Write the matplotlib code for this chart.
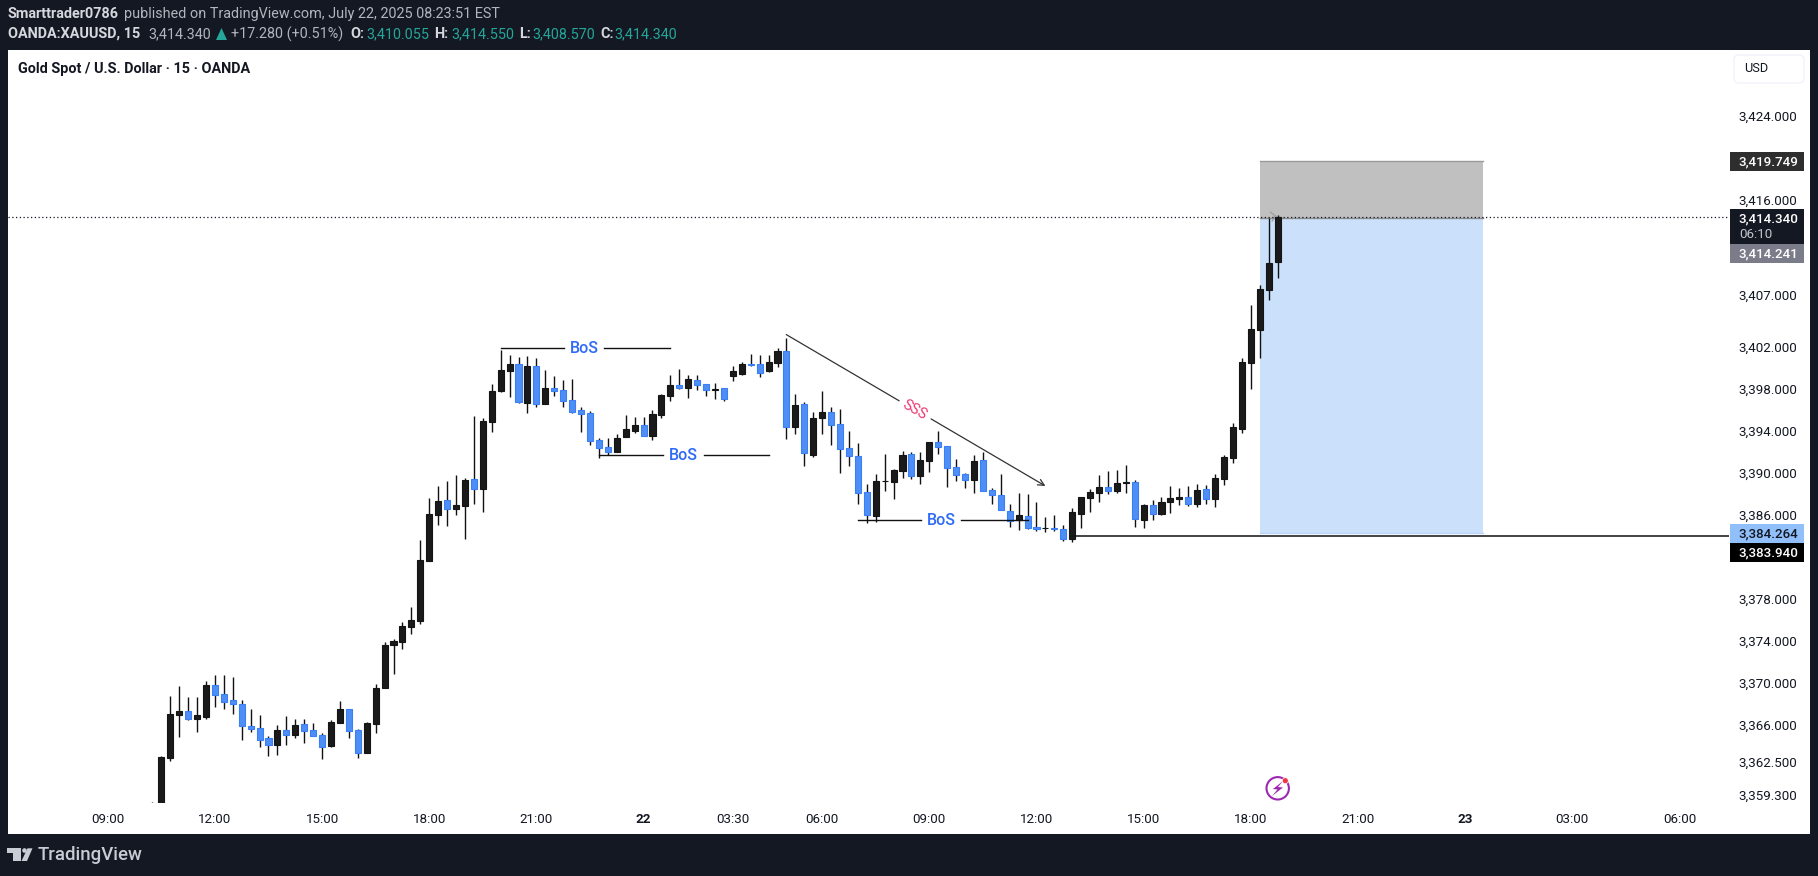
import numpy as np
import matplotlib
matplotlib.use('Agg')
import matplotlib.pyplot as plt
from matplotlib.patches import Rectangle, FancyBboxPatch, Polygon, Circle

# Bougies XAUUSD 15 min
opens = [3356.0, 3356.5, 3362.85, 3366.95, 3367.27, 3366.56, 3366.75, 3369.75, 3368.89, 3368.32,
         3367.94, 3365.84, 3365.65, 3364.70, 3364.09, 3365.46, 3365.04, 3366.03, 3365.46, 3364.98,
         3363.99, 3366.18, 3367.46, 3365.46, 3363.32, 3366.09, 3369.52, 3373.59, 3373.90, 3375.33,
         3375.90, 3381.62, 3386.00, 3387.38, 3386.58, 3386.86, 3389.38, 3388.48, 3394.87, 3397.82,
         3399.73, 3400.34, 3396.68, 3400.15, 3396.58, 3398.05, 3397.86, 3396.91, 3395.95, 3395.67,
         3393.09, 3392.43, 3392.01, 3393.44, 3394.01, 3394.52, 3393.53, 3395.53, 3397.35, 3398.34,
         3398.11, 3398.82, 3398.43, 3397.93, 3398.05, 3399.25, 3399.44, 3400.34, 3400.34, 3399.73,
         3400.43, 3401.58, 3394.33, 3396.53, 3391.72, 3395.25, 3395.76, 3394.62, 3392.33, 3391.57,
         3388.14, 3385.91, 3389.17, 3389.15, 3390.20, 3391.76, 3389.72, 3391.15, 3392.90, 3392.52,
         3390.52, 3389.85, 3389.34, 3391.19, 3388.33, 3387.85, 3386.33, 3385.47, 3385.85, 3384.80,
         3384.69, 3384.74, 3384.61, 3383.72, 3386.10, 3387.62, 3388.10, 3388.62, 3388.29, 3389.07,
         3389.09, 3385.53, 3386.90, 3386.10, 3387.24, 3387.53, 3387.66, 3387.05, 3388.42, 3387.53,
         3389.44, 3391.44, 3394.20, 3400.49, 3403.63, 3407.45, 3410.055]
highs = [3358.6, 3363.00, 3368.73, 3369.68, 3368.63, 3368.63, 3370.16, 3370.73, 3370.73, 3370.54,
         3368.35, 3367.49, 3366.92, 3364.89, 3365.96, 3366.82, 3366.54, 3366.54, 3366.15, 3365.20,
         3366.44, 3368.25, 3367.46, 3365.58, 3366.25, 3369.87, 3373.87, 3374.16, 3375.78, 3377.21,
         3383.59, 3387.60, 3388.74, 3389.22, 3389.79, 3389.50, 3395.41, 3395.22, 3398.46, 3401.70,
         3401.22, 3401.00, 3401.13, 3400.91, 3399.79, 3399.22, 3398.84, 3398.91, 3396.24, 3395.89,
         3393.29, 3393.31, 3393.69, 3395.51, 3395.29, 3395.29, 3395.98, 3397.51, 3399.32, 3399.89,
         3399.32, 3399.32, 3398.43, 3398.55, 3398.05, 3400.18, 3400.53, 3401.32, 3401.22, 3401.22,
         3401.86, 3402.81, 3397.48, 3396.75, 3395.76, 3397.79, 3396.24, 3396.05, 3393.95, 3392.81,
         3388.90, 3389.85, 3391.76, 3390.33, 3392.05, 3391.95, 3391.95, 3392.90, 3393.95, 3392.52,
         3391.28, 3390.01, 3391.66, 3391.95, 3388.52, 3389.85, 3386.99, 3388.04, 3387.95, 3387.19,
         3385.76, 3385.95, 3384.99, 3386.61, 3387.66, 3388.42, 3389.76, 3390.17, 3390.24, 3390.71,
         3389.28, 3386.99, 3387.38, 3387.66, 3388.71, 3388.52, 3388.71, 3388.90, 3388.81, 3389.85,
         3391.66, 3394.71, 3400.91, 3405.96, 3407.87, 3414.25, 3414.55]
lows = [3355.0, 3356.0, 3362.56, 3364.82, 3366.47, 3365.30, 3366.56, 3367.68, 3367.49, 3367.01,
        3364.54, 3365.30, 3363.87, 3363.01, 3363.10, 3364.06, 3364.73, 3364.25, 3364.94, 3362.72,
        3363.87, 3366.18, 3364.73, 3362.82, 3363.32, 3365.20, 3369.52, 3370.82, 3373.21, 3374.66,
        3375.62, 3381.62, 3385.05, 3384.93, 3385.98, 3383.72, 3387.05, 3386.26, 3393.91, 3397.73,
        3397.25, 3396.68, 3395.67, 3396.30, 3396.58, 3397.35, 3396.30, 3395.73, 3393.91, 3392.65,
        3391.44, 3391.69, 3392.01, 3393.44, 3393.82, 3393.53, 3393.15, 3395.25, 3396.87, 3398.01,
        3397.15, 3397.92, 3397.35, 3397.06, 3396.87, 3398.77, 3399.35, 3400.20, 3399.16, 3399.63,
        3400.11, 3393.25, 3393.72, 3390.67, 3391.53, 3393.72, 3392.68, 3390.01, 3390.67, 3387.05,
        3385.24, 3385.34, 3388.29, 3387.53, 3389.53, 3389.44, 3388.96, 3390.10, 3391.82, 3388.67,
        3389.25, 3388.58, 3388.10, 3388.29, 3387.05, 3386.48, 3384.86, 3384.57, 3384.67, 3384.48,
        3384.38, 3384.48, 3383.53, 3383.43, 3384.76, 3386.29, 3387.24, 3388.00, 3388.10, 3388.10,
        3384.86, 3384.76, 3385.53, 3386.00, 3386.19, 3386.96, 3386.86, 3386.77, 3387.05, 3386.77,
        3388.86, 3390.96, 3393.82, 3398.01, 3400.97, 3406.50, 3408.57]
closes = [3357.0, 3362.91, 3367.01, 3367.27, 3366.56, 3366.89, 3369.75, 3368.85, 3368.18, 3368.00,
          3365.90, 3365.61, 3364.56, 3364.09, 3365.46, 3365.04, 3365.94, 3365.42, 3364.94, 3363.89,
          3366.22, 3367.46, 3365.42, 3363.32, 3366.12, 3369.46, 3373.56, 3373.97, 3375.40, 3375.94,
          3381.66, 3386.04, 3387.28, 3386.58, 3386.90, 3389.28, 3388.48, 3394.91, 3397.76, 3399.77,
          3400.34, 3396.77, 3400.15, 3396.58, 3398.05, 3397.82, 3396.87, 3395.82, 3395.63, 3393.06,
          3392.39, 3392.01, 3393.29, 3394.14, 3394.52, 3393.53, 3395.57, 3397.38, 3398.34, 3398.11,
          3398.91, 3398.39, 3397.92, 3397.97, 3397.06, 3399.67, 3400.34, 3400.27, 3399.48, 3400.53,
          3401.58, 3394.33, 3396.43, 3391.85, 3395.19, 3395.76, 3394.58, 3392.30, 3391.63, 3388.04,
          3386.00, 3389.19, 3389.21, 3390.24, 3391.66, 3389.72, 3391.19, 3392.90, 3392.48, 3390.48,
          3389.82, 3389.34, 3391.09, 3388.29, 3387.91, 3386.48, 3385.43, 3385.95, 3384.76, 3384.61,
          3384.73, 3384.68, 3383.72, 3386.23, 3387.66, 3388.14, 3388.62, 3388.29, 3389.00, 3389.11,
          3385.62, 3386.90, 3386.10, 3387.19, 3387.57, 3387.66, 3387.05, 3388.33, 3387.53, 3389.47,
          3391.47, 3394.33, 3400.53, 3403.67, 3407.49, 3409.96, 3414.34]

price_ticks = [3424.0, 3416.0, 3407.0, 3402.0, 3398.0, 3394.0, 3390.0, 3386.0, 3378.0,
               3374.0, 3370.0, 3366.0, 3362.5, 3359.3]
time_pos = [-5, 7, 19, 31, 43, 55, 65, 75, 87, 99, 111, 123, 135, 147, 159, 171]
time_labels = ['09:00', '12:00', '15:00', '18:00', '21:00', '22', '03:30', '06:00', '09:00', '12:00',
               '15:00', '18:00', '21:00', '23', '03:00', '06:00']
bold_times = ['22', '23']

last_price = 3414.34
stop_price = 3419.749
entry_price = 3414.241
target_price = 3384.264
low_line = 3383.94

# lignes BoS : debut, fin, prix, debut du trou, fin du trou
bos_lines = [(39, 58, 3401.86, 46.1, 50.6),
             (50, 69, 3391.66, 57.2, 61.8),
             (79, 98, 3385.47, 86.1, 90.6)]
sss_start = (71, 3403.16)
sss_gap = [(83.6, 3396.87), (87.2, 3395.13)]
sss_end = (100, 3388.74)

DARK = '#131822'
W, H = 1818, 876
BLACK = '#1a1a1a'
BLUE = '#4f8ff5'
BLUE_EDGE = '#3a7ff6'
FONT = 'Roboto'
HEAD = 10.4

fig = plt.figure(figsize=(W / 100, H / 100), dpi=100, facecolor=DARK)


def axes_box(x0, y0, x1, y1):
    return [x0 / W, 1 - y1 / H, (x1 - x0) / W, (y1 - y0) / H]


# fond blanc du graphique
back = fig.add_axes(axes_box(8, 50, 1810, 834), facecolor='white')
back.set_xticks([])
back.set_yticks([])
for s in back.spines.values():
    s.set_visible(False)

ax = fig.add_axes(axes_box(8, 50, 1729, 803))
ax.patch.set_alpha(0)
ax.set_xlim(-16.17, 176.55)
ax.set_ylim(3358.53, 3430.29)
for s in ax.spines.values():
    s.set_visible(False)

# zone de la position (long)
box_left, box_right = 124.0, 148.95
ax.add_patch(Rectangle((box_left, entry_price), box_right - box_left, stop_price - entry_price,
                       fc='#c0c0c0', ec='none', zorder=1))
ax.add_patch(Rectangle((box_left, target_price), box_right - box_left, entry_price - target_price,
                       fc='#cbe1fb', ec='none', zorder=1))
ax.plot([box_left, box_right], [stop_price, stop_price], color='#9a9a9a', lw=1, zorder=1.5)
ax.plot([box_left, box_right], [entry_price, entry_price], color='#8c8c8c', lw=1, zorder=1.5)
ax.plot([box_left, box_right], [target_price, target_price], color='#b9d6fa', lw=1, zorder=1.5)

# petite fleche grise cachee derriere la derniere bougie
ax.plot([125.2, 125.75], [3414.85, 3414.47], color='#a0a0a8', lw=1, zorder=2)
ax.plot([125.75, 125.4], [3414.47, 3414.0], color='#a0a0a8', lw=1, zorder=2)

x = np.arange(len(opens))
o = np.array(opens)
c = np.array(closes)
up = c >= o
ax.vlines(x, lows, highs, color='#111111', lw=1.0, zorder=3)
ax.bar(x[up], (c - o)[up], bottom=o[up], width=0.68, color=BLACK, edgecolor='#141414', lw=0.8, zorder=4)
ax.bar(x[~up], (c - o)[~up], bottom=o[~up], width=0.68, color=BLUE, edgecolor=BLUE_EDGE, lw=0.8, zorder=4)

# ligne du dernier prix et ligne du plus bas
ax.axhline(last_price, color='#131722', ls=(0, (1, 2)), lw=0.9, zorder=5)
ax.plot([103, ax.get_xlim()[1]], [low_line, low_line], color='#111111', lw=1.1, zorder=5)

# BoS
for start, end, price, g0, g1 in bos_lines:
    ax.plot([start, g0], [price, price], color='#111111', lw=1.0, zorder=5)
    ax.plot([g1, end], [price, price], color='#111111', lw=1.0, zorder=5)
    ax.text((g0 + g1) / 2, price, 'BoS', color='#2f6bf6', fontsize=11.5, family=FONT, fontweight='medium',
            ha='center', va='center', zorder=6)

# SSS
ax.plot([sss_start[0], sss_gap[0][0]], [sss_start[1], sss_gap[0][1]], color='#333333', lw=0.9, zorder=5)
ax.annotate('', xy=sss_end, xytext=sss_gap[1], zorder=5,
            arrowprops=dict(arrowstyle='->', color='#333333', lw=0.9, mutation_scale=11,
                            shrinkA=0, shrinkB=0))
ax.text((sss_gap[0][0] + sss_gap[1][0]) / 2, (sss_gap[0][1] + sss_gap[1][1]) / 2, 'SSS',
        color='#f0336e', fontsize=10.5, family=FONT, rotation=-30, rotation_mode='anchor',
        ha='center', va='center', zorder=6)

ax.yaxis.tick_right()
ax.set_yticks(price_ticks)
ax.set_yticklabels(['{:,.3f}'.format(p) for p in price_ticks], fontsize=9.6, family=FONT, color='#131722')
ax.set_xticks(time_pos)
ax.set_xticklabels(time_labels, fontsize=9.6, family=FONT, color='#131722')
for lab in ax.get_xticklabels():
    if lab.get_text() in bold_times:
        lab.set_fontweight('bold')
ax.tick_params(axis='y', length=0, pad=7)
ax.tick_params(axis='x', length=0, pad=7)

# calque en pixels pour le reste de l'interface
ui = fig.add_axes([0, 0, 1, 1], zorder=10)
ui.patch.set_alpha(0)
ui.set_xlim(0, W)
ui.set_ylim(H, 0)
ui.axis('off')

# etiquettes de prix
tags = [(152, 171, '#2e2e2e', '3,419.749', 'white'),
        (244, 263, '#7a7c8a', '3,414.241', 'white'),
        (524, 543, '#90bff9', '3,384.264', '#131722'),
        (543, 562, '#000000', '3,383.940', 'white')]
for y0, y1, fc, label, tc in tags:
    ui.add_patch(Rectangle((1730, y0), 74, y1 - y0, fc=fc, ec='none'))
    ui.text(1768, (y0 + y1) / 2, label, color=tc, fontsize=9.6, family=FONT, fontweight='medium',
            ha='center', va='center')
ui.add_patch(Rectangle((1730, 209), 74, 35, fc=DARK, ec='none'))
ui.text(1768, 219, '3,414.340', color='white', fontsize=9.6, family=FONT, fontweight='medium', ha='center', va='center')
ui.text(1739, 234, '06:10', color='#c4c6cc', fontsize=9.6, family=FONT, ha='left', va='center')

# bouton USD
ui.add_patch(FancyBboxPatch((1737, 58), 64, 22, boxstyle='round,pad=3,rounding_size=5', fc='white',
                            ec='#f0f3fa', lw=1))
ui.text(1744, 69, 'USD', color='#131722', fontsize=9.2, family=FONT, ha='left', va='center')

# titres
ui.text(8, 14, 'Smarttrader0786', color='#d6d8de', fontsize=HEAD, family=FONT, fontweight='bold', va='center')
ui.text(123.5, 14, 'published on TradingView.com, July 22, 2025 08:23:51 EST', color='#b2b5be', fontsize=HEAD,
        family=FONT, va='center')
ui.text(8, 34, 'OANDA:XAUUSD, 15', color='#d6d8de', fontsize=HEAD, family=FONT, fontweight='bold', va='center')
ui.text(148, 34, '3,414.340', color='#b2b5be', fontsize=HEAD, family=FONT, va='center')
ui.add_patch(Polygon([[216, 40], [227, 40], [221.5, 28]], fc='#26a69a', ec='none'))
ui.text(231, 34, '+17.280 (+0.51%)', color='#b2b5be', fontsize=HEAD, family=FONT, va='center')
hdr = [(350, 366, 'O:', '3,410.055'), (434, 451, 'H:', '3,414.550'), (519, 532, 'L:', '3,408.570'),
       (600, 614, 'C:', '3,414.340')]
for xh, xv, name, val in hdr:
    ui.text(xh, 34, name, color='#d6d8de', fontsize=HEAD, family=FONT, fontweight='bold', va='center')
    ui.text(xv, 34, val, color='#26a69a', fontsize=HEAD, family=FONT, va='center')
ui.text(17.5, 68.5, 'Gold Spot / U.S. Dollar · 15 · OANDA', color='#131722', fontsize=10.4, family=FONT,
        fontweight='bold', va='center')

# icone eclair
ui.add_patch(Circle((1277.7, 788.3), 11.2, fc='white', ec='#9c27b0', lw=1.5))
ui.add_patch(Polygon([[1283, 781], [1273, 789], [1277.5, 789.5], [1272, 796], [1283, 787.5], [1278, 787]],
                     fc='#9c27b0', ec='none'))
ui.add_patch(Circle((1285.3, 780.7), 3, fc='#f23645', ec='white', lw=0.5))

# logo TradingView
logo = '#c8ccd4'
ui.add_patch(Polygon([[7.3, 848.3], [20.7, 848.3], [20.7, 861], [12.7, 861], [12.7, 852.7], [7.3, 852.7]],
                     fc=logo, ec='none'))
ui.add_patch(Circle((24.5, 850.5), 2.3, fc=logo, ec='none'))
ui.add_patch(Polygon([[27.5, 848.3], [32.5, 848.3], [27, 861], [21.5, 861]], fc=logo, ec='none'))
ui.text(38, 855, 'TradingView', color=logo, fontsize=13.4, family=FONT, fontweight='medium', va='center')

fig.savefig('out.png', dpi=100, facecolor=DARK)
